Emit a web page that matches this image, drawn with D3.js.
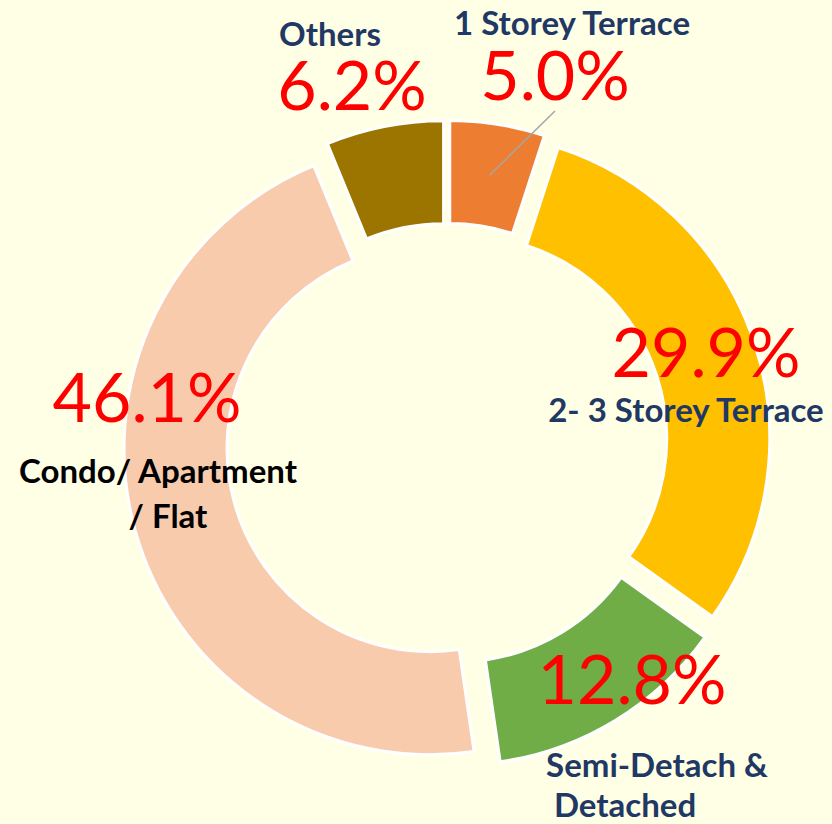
<!DOCTYPE html>
<html>
<head>
<meta charset="utf-8">
<script src="https://cdn.jsdelivr.net/npm/d3@7"></script>
<style>
  body { margin: 0; background: #FFFFE6; }
</style>
</head>
<body>
<div id="chart"></div>
<script>
// chart data
var categories = ["1 Storey Terrace", "2- 3 Storey Terrace", "Semi-Detach & Detached", "Condo/ Apartment / Flat", "Others"];
var shares = [5.0, 29.9, 12.8, 46.1, 6.2];
var colors = ["#ED7D31", "#FFC000", "#70AD47", "#F8CBAD", "#9C7500"];

// label lines and placement (hand placed, like the original)
var nameLines = [["1 Storey Terrace"], ["2- 3 Storey Terrace"], ["Semi-Detach &", "Detached"], ["Condo/ Apartment", "/ Flat"], ["Others"]];
var nameColors = ["#1F3864", "#1F3864", "#1F3864", "#000000", "#1F3864"];
var pctPos = [[555, 100], [706, 377], [632, 704], [147, 422], [352, 110]];
var namePos = [[[572, 35]], [[686, 422]], [[657, 777], [625, 817]], [[158, 483], [168, 528]], [[330, 46]]];

var width = 832, height = 824,
    cx = 447, cy = 444,
    outerR = 306, innerR = 203,
    explode = 17.6;

var svg = d3.select("#chart")
  .append("svg")
    .attr("width", width)
    .attr("height", height);

svg.append("rect")
    .attr("width", width)
    .attr("height", height)
    .attr("fill", "#FFFFE6");

var pie = d3.pie().sort(null).value(function(d) { return d; });
var arc = d3.arc().innerRadius(innerR).outerRadius(outerR);
var arcs = pie(shares);

var g = svg.append("g")
    .attr("transform", "translate(" + cx + "," + cy + ")");

g.selectAll("path")
  .data(arcs)
  .enter().append("path")
    .attr("transform", function(d) {
      var a = (d.startAngle + d.endAngle) / 2;
      return "translate(" + (Math.sin(a) * explode) + "," + (-Math.cos(a) * explode) + ")";
    })
    .attr("d", arc)
    .attr("fill", function(d, i) { return colors[i]; })
    .attr("stroke", "#FFFFFF")
    .attr("stroke-width", 3);

// leader line for the small slice
var a0 = (arcs[0].startAngle + arcs[0].endAngle) / 2;
var c0 = arc.centroid(arcs[0]);
svg.append("line")
    .attr("x1", pctPos[0][0])
    .attr("y1", pctPos[0][1] + 11)
    .attr("x2", cx + c0[0] + Math.sin(a0) * explode)
    .attr("y2", cy + c0[1] - Math.cos(a0) * explode)
    .attr("stroke", "#A6A6A6")
    .attr("stroke-width", 1.5);

// percentage labels
svg.selectAll(".pct")
  .data(shares)
  .enter().append("text")
    .attr("class", "pct")
    .attr("x", function(d, i) { return pctPos[i][0]; })
    .attr("y", function(d, i) { return pctPos[i][1]; })
    .attr("text-anchor", "middle")
    .attr("font-family", "Lato, 'Open Sans', sans-serif")
    .attr("font-size", 68)
    .attr("fill", "#FF0000")
    .text(function(d) { return d3.format(".1f")(d) + "%"; });

// category labels
categories.forEach(function(c, i) {
  nameLines[i].forEach(function(line, j) {
    svg.append("text")
      .attr("x", namePos[i][j][0])
      .attr("y", namePos[i][j][1])
      .attr("text-anchor", "middle")
      .attr("font-family", "Lato, 'Open Sans', sans-serif")
      .attr("font-weight", "bold")
      .attr("font-size", 33)
      .attr("fill", nameColors[i])
      .text(line);
  });
});
</script>
</body>
</html>
